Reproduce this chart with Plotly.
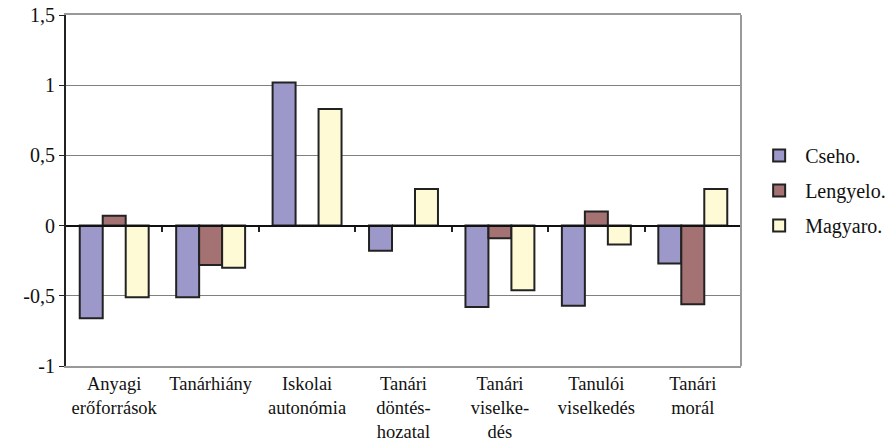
import plotly.graph_objects as go

# Categories (x axis labels, multi-line)
categories = [
    "Anyagi<br>erőforrások",
    "Tanárhiány",
    "Iskolai<br>autonómia",
    "Tanári<br>döntés-<br>hozatal",
    "Tanári<br>viselke-<br>dés",
    "Tanulói<br>viselkedés",
    "Tanári<br>morál",
]

# Series values
cseho = [-0.66, -0.51, 1.02, -0.18, -0.58, -0.57, -0.27]
lengyelo = [0.07, -0.28, 0.0, 0.0, -0.09, 0.10, -0.56]
magyaro = [-0.51, -0.30, 0.83, 0.26, -0.46, -0.135, 0.26]

series_names = ["Cseho.", "Lengyelo.", "Magyaro."]
series_colors = ["#9c98c9", "#a47272", "#fffad6"]

# Y axis ticks
y_tickvals = [-1, -0.5, 0, 0.5, 1, 1.5]
y_ticktext = ["-1", "-0,5", "0", "0,5", "1", "1,5"]

FONT = "Liberation Serif, Times New Roman, serif"
FSIZE = 20
XSIZE = 18.5

fig = go.Figure()
for name, vals, col in zip(series_names, [cseho, lengyelo, magyaro], series_colors):
    fig.add_trace(go.Bar(
        x=list(range(len(categories))),
        y=vals,
        name=name,
        legendgroup=name,
        marker=dict(color=col, line=dict(color="#222222", width=2)),
    ))

# Invisible helper trace so the zero-line category axis exists
fig.add_trace(go.Scatter(x=[0], y=[0], xaxis="x2", yaxis="y",
                         mode="markers", marker=dict(opacity=0),
                         showlegend=False, hoverinfo="skip"))

n = len(categories)
fig.update_layout(
    template="none",
    width=891, height=446,
    margin=dict(l=66, r=150, t=15, b=80, autoexpand=False),
    paper_bgcolor="white", plot_bgcolor="white",
    font=dict(family=FONT, size=FSIZE, color="#111111"),
    barmode="group",
    bargap=0.285,
    bargroupgap=0,
    showlegend=True,
    legend=dict(
        x=1.018, y=0.5, xanchor="left", yanchor="middle",
        font=dict(family=FONT, size=FSIZE, color="#111111"),
        tracegroupgap=6,
        itemwidth=42,
        bgcolor="rgba(0,0,0,0)",
    ),
    xaxis=dict(
        automargin=False,
        range=[-0.5, n - 0.5],
        tickvals=list(range(n)),
        ticktext=categories,
        ticks="",
        ticklabelstandoff=0,
        showgrid=False,
        zeroline=False,
        showline=True, linecolor="#999999", linewidth=2, mirror=True,
        tickfont=dict(family=FONT, size=XSIZE, color="#111111"),
    ),
    xaxis2=dict(
        automargin=False,
        overlaying="x", anchor="free", position=0.4,
        range=[-0.5, n - 0.5],
        tickvals=[i + 0.5 for i in range(n - 1)],
        showticklabels=False,
        ticks="outside", ticklen=5, tickwidth=2, tickcolor="#222222",
        showline=True, linecolor="#111111", linewidth=2,
        showgrid=False, zeroline=False,
    ),
    yaxis=dict(
        automargin=False,
        range=[-1, 1.5],
        tickvals=y_tickvals,
        ticktext=y_ticktext,
        ticks="outside", ticklen=5, tickcolor="#222222", tickwidth=1,
        showgrid=True, gridcolor="#808080", gridwidth=1,
        zeroline=False,
        showline=True, linecolor="#222222", linewidth=2,
        tickfont=dict(family=FONT, size=FSIZE, color="#111111"),
    ),
    shapes=[dict(type="line", xref="paper", yref="paper",
                 x0=1, x1=1, y0=0, y1=1,
                 line=dict(color="#999999", width=2))],
)

fig.write_html("out.html")
